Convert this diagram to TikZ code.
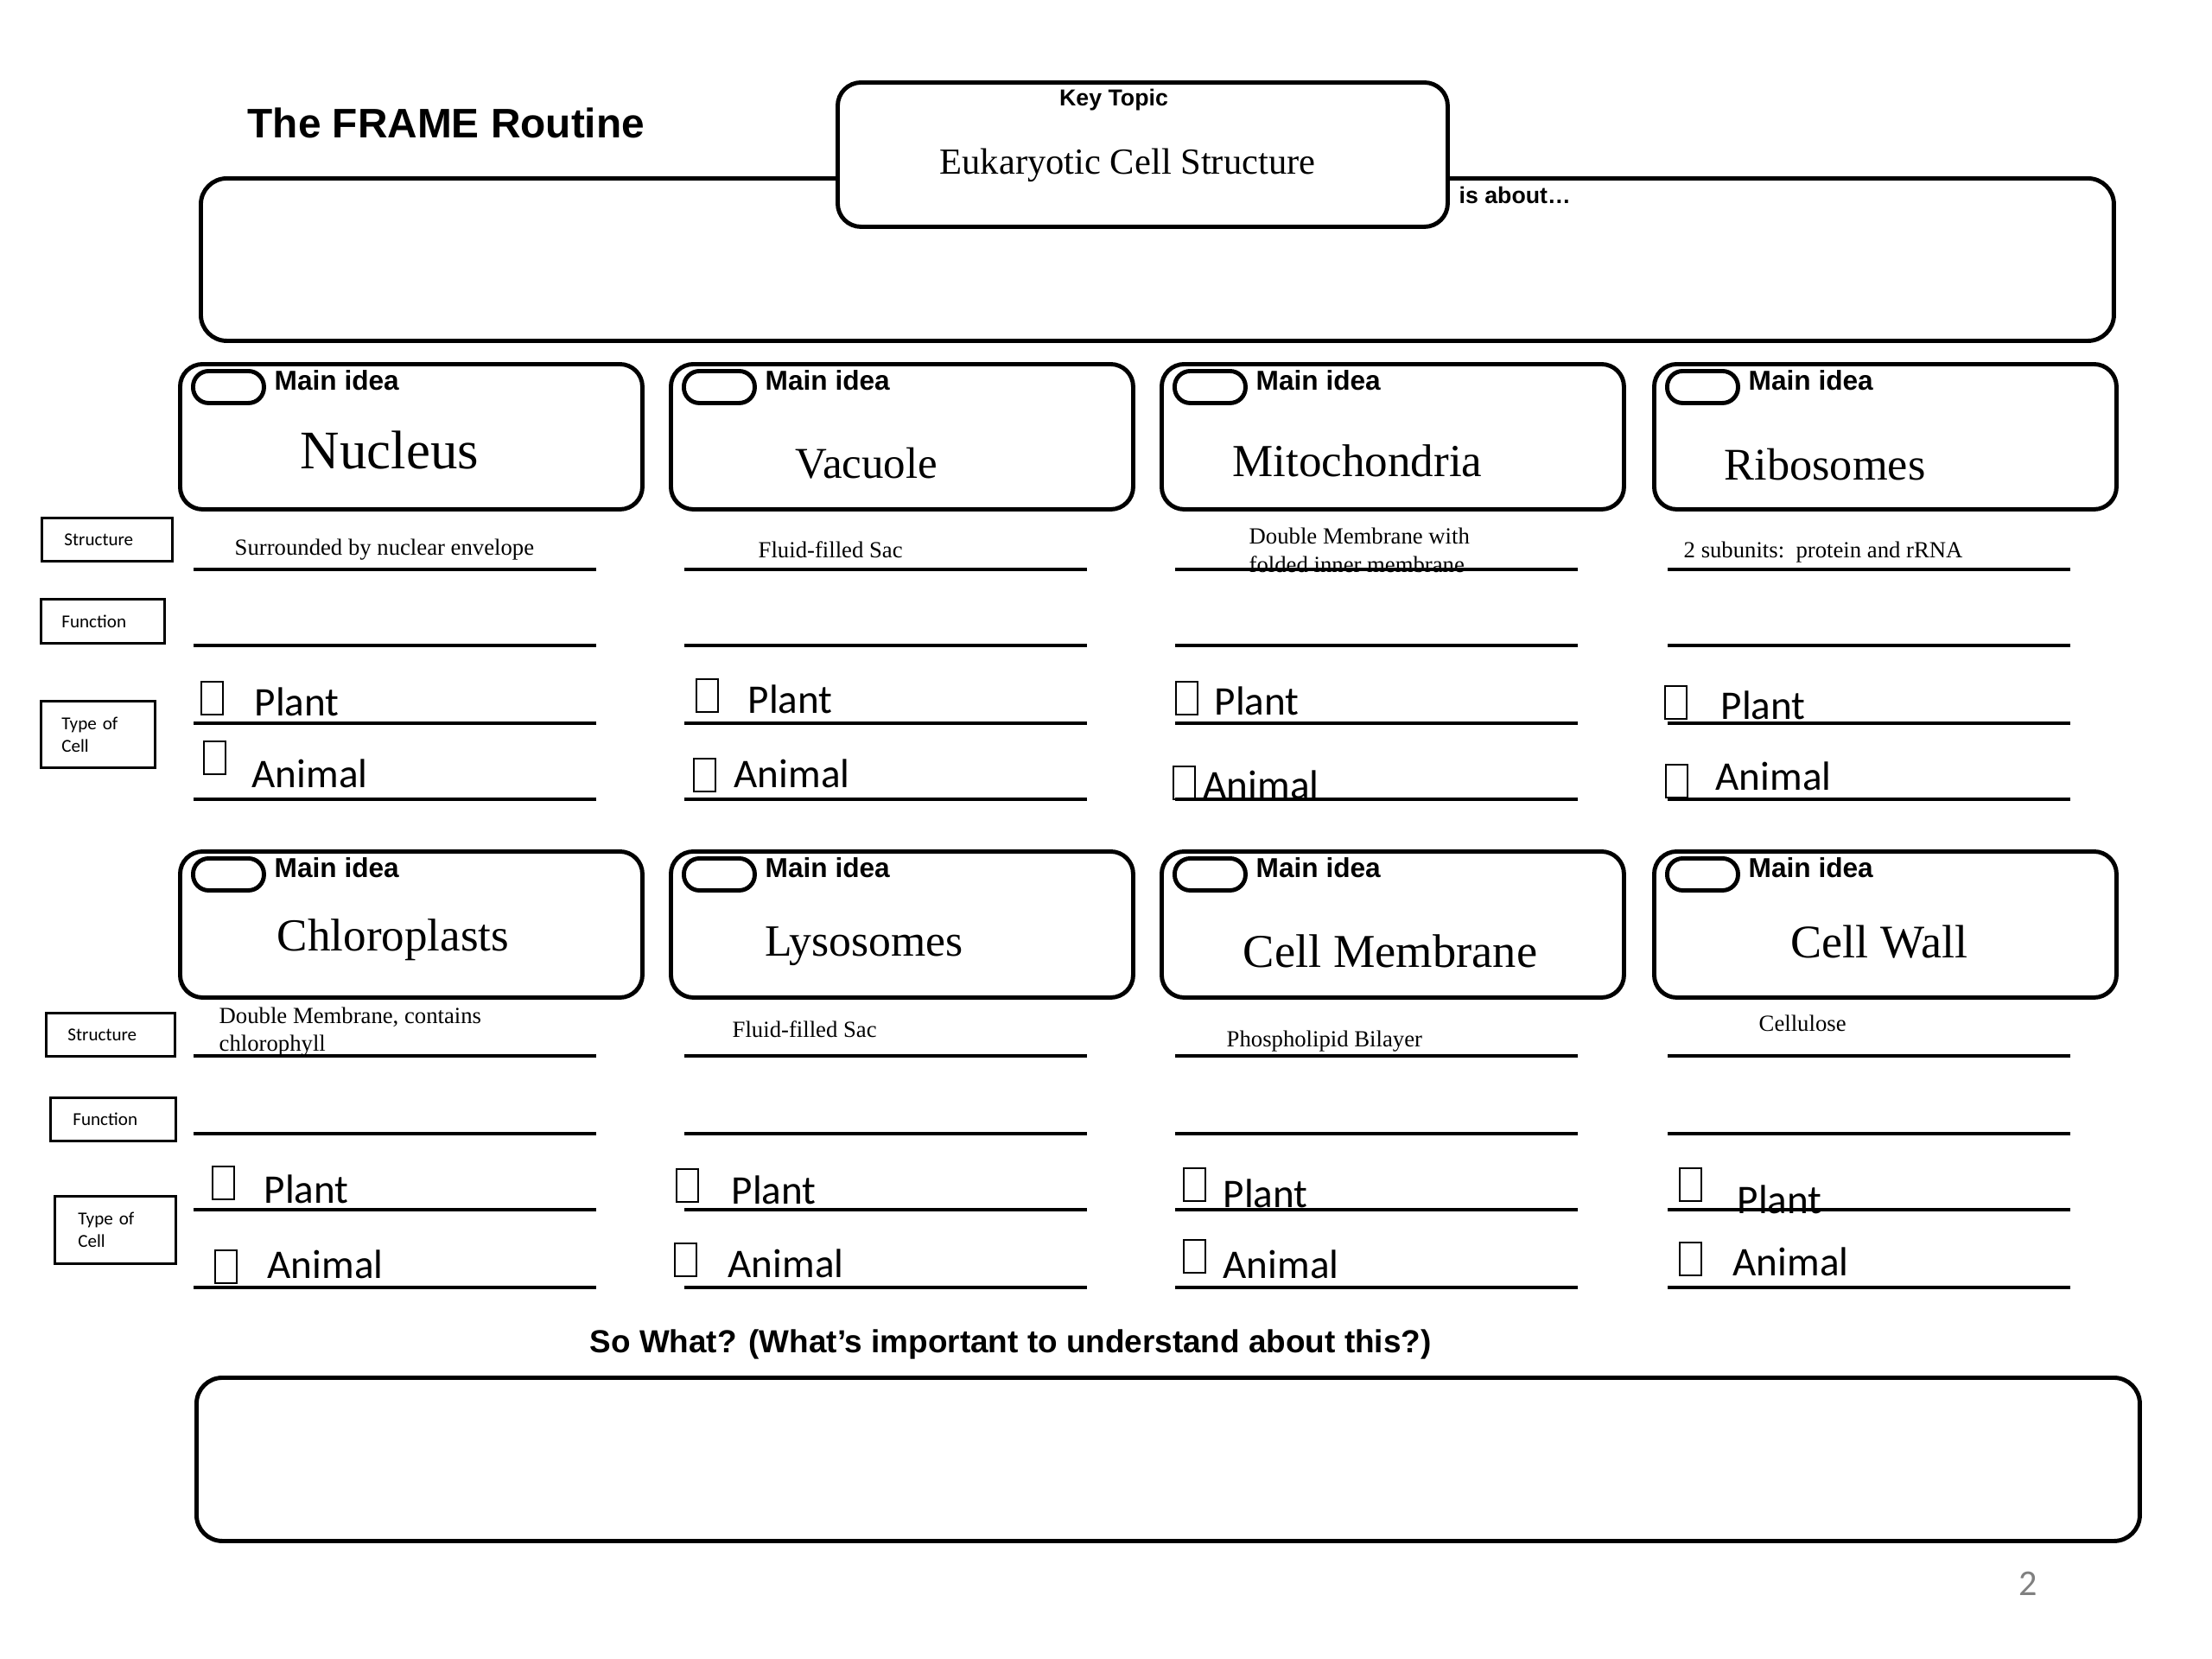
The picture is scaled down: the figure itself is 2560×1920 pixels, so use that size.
\documentclass[tikz,border=0pt]{standalone}
\usepackage{fontspec}
\setmainfont{Liberation Serif}
\newfontfamily\arialf{Liberation Sans}
\newfontfamily\calf{Carlito}
\begin{document}
\begin{tikzpicture}[x=0.1mm,y=-0.1mm,
  roundbox/.style={draw, line width=1.4pt, rounded corners=2.6mm, fill=white, inner sep=0pt, anchor=north west},
  pillbox/.style={draw, line width=1.4pt, rounded corners=1.8mm, inner sep=0pt, anchor=north west, minimum width=8.2mm, minimum height=3.7mm},
  mainidea/.style={font=\arialf\bfseries\fontsize{9}{10}\selectfont, anchor=base west, inner sep=0pt},
  topicname/.style={anchor=base, inner sep=0pt},
  sidelbl/.style={draw, line width=0.8pt, anchor=north west, align=left, font=\calf\fontsize{6}{7.4}\selectfont, inner ysep=0pt},
  rule/.style={line width=1.05pt},
  chk/.style={draw, line width=0.5pt, inner sep=0pt, minimum width=2.5mm, minimum height=3.8mm, anchor=north west},
  chklbl/.style={font=\calf\fontsize{13.4}{15}\selectfont, anchor=base west, inner sep=0pt},
  structtxt/.style={font=\fontsize{7.6}{9}\selectfont, anchor=base west, inner sep=0pt},
  smallbold/.style={font=\arialf\bfseries\fontsize{7.6}{9}\selectfont, inner sep=0pt},
]
\useasboundingbox (0,0) rectangle (2560,1920);

% title
\node[font=\arialf\bfseries\fontsize{13.6}{16}\selectfont, anchor=base west, inner sep=0pt] (title) at (286,159) {The FRAME Routine};

% is about box and key topic
\node[roundbox, rounded corners=3mm, minimum width=221.4mm, minimum height=18.8mm] (about) at (230,204) {};
\node[roundbox, rounded corners=2.7mm, minimum width=70.6mm, minimum height=16.7mm] (keytopic) at (967,93) {};
\node[smallbold, anchor=base] (keylbl) at (1289,122) {Key Topic};
\node[font=\fontsize{12.1}{14}\selectfont, anchor=base, inner sep=0pt] (keytxt) at (1305,201) {Eukaryotic Cell Structure};
\node[smallbold, anchor=base west] (isabout) at (1688,235) {is about\dots};

% main idea boxes and rules
\foreach \c/\xl in {1/206,2/774,3/1342,4/1912}{
  \node[roundbox, minimum width=53.5mm, minimum height=16.8mm] (mia\c) at (\xl,419) {};
  \node[pillbox] (pilla\c) at (\xl+15,427) {};
  \node[mainidea] (mila\c) at (\xl+111,451) {Main idea};
  \node[roundbox, minimum width=53.5mm, minimum height=16.9mm] (mib\c) at (\xl,983) {};
  \node[pillbox] (pillb\c) at (\xl+15,991) {};
  \node[mainidea] (milb\c) at (\xl+111,1015) {Main idea};
  \foreach \y in {659,747,837,925,1222,1312,1400,1490}
    \draw[rule] (\xl+18,\y) -- (\xl+484,\y);
}

% topic names
\node[topicname, font=\fontsize{17.9}{20}\selectfont] (tnucleus) at (451,542) {Nucleus};
\node[topicname, font=\fontsize{14.5}{17}\selectfont] (tvacuole) at (1003,553) {Vacuole};
\node[topicname, font=\fontsize{15.1}{17}\selectfont] (tmito) at (1571,551) {Mitochondria};
\node[topicname, font=\fontsize{14.9}{17}\selectfont] (tribo) at (2112,555) {Ribosomes};
\node[topicname, font=\fontsize{15.1}{17}\selectfont] (tchloro) at (455,1100) {Chloroplasts};
\node[topicname, font=\fontsize{14.7}{17}\selectfont] (tlyso) at (1000,1106) {Lysosomes};
\node[topicname, font=\fontsize{15.5}{17}\selectfont] (tmemb) at (1609,1119) {Cell Membrane};
\node[topicname, font=\fontsize{15.4}{17}\selectfont] (twall) at (2175,1108) {Cell Wall};

% structure texts
\node[structtxt] (snucleus) at (271,642) {Surrounded by nuclear envelope};
\node[structtxt] (svacuole) at (877,645) {Fluid-filled Sac};
\node[structtxt] (smitoA) at (1445,629) {Double Membrane with};
\node[structtxt] (smitoB) at (1445,662) {folded inner membrane};
\node[structtxt] (sribo) at (1948,645) {2 subunits:\ \ protein and rRNA};
\node[structtxt] (schloroA) at (253,1184) {Double Membrane, contains};
\node[structtxt] (schloroB) at (253,1216) {chlorophyll};
\node[structtxt] (slyso) at (847,1200) {Fluid-filled Sac};
\node[structtxt] (smemb) at (1419,1211) {Phospholipid Bilayer};
\node[structtxt] (swall) at (2035,1193) {Cellulose};

% side labels
\node[sidelbl, minimum height=5.0mm, inner xsep=2.6mm, text width=9.9mm] (lstructa) at (47,598) {Structure};
\node[sidelbl, minimum height=5.1mm, inner xsep=2.4mm, text width=9.5mm] (lfunca) at (46,692) {Function};
\node[sidelbl, minimum height=7.7mm, inner xsep=2.4mm, text width=8.4mm] (ltypea) at (46,810) {Type of\\Cell};
\node[sidelbl, minimum height=5.0mm, inner xsep=2.5mm, text width=9.9mm] (lstructb) at (52,1171) {Structure};
\node[sidelbl, minimum height=5.0mm, inner xsep=2.6mm, text width=9.3mm] (lfuncb) at (57,1269) {Function};
\node[sidelbl, minimum height=7.8mm, inner xsep=2.7mm, text width=8.6mm] (ltypeb) at (62,1383) {Type of\\Cell};

% checkboxes
\foreach \n/\bx/\by/\tx/\ty/\t in {
  p11/232/788/294/828/Plant, a11/235/857/291/911/Animal,
  p12/805/785/865/825/Plant, a12/802/877/849/911/Animal,
  p13/1360/788/1405/827/Plant, a13/1357/886/1392/924/Animal,
  p14/1926/793/1991/832/Plant, a14/1927/884/1985/914/Animal,
  p21/245/1349/305/1392/Plant, a21/248/1446/309/1479/Animal,
  p22/782/1352/846/1393/Plant, a22/780/1438/842/1478/Animal,
  p23/1369/1351/1415/1397/Plant, a23/1369/1434/1415/1479/Animal,
  p24/1943/1351/2010/1404/Plant, a24/1943/1437/2005/1476/Animal}{
  \node[chk] (box\n) at (\bx,\by) {};
  \node[chklbl] (txt\n) at (\tx,\ty) {\t};
}

% so what
\node[font=\arialf\bfseries\fontsize{10.5}{12}\selectfont, anchor=base west, inner sep=0pt] (sowhat) at (682,1565) {So What? (What’s important to understand about this?)};
\node[roundbox, rounded corners=3mm, minimum width=224.9mm, minimum height=18.9mm] (sowhatbox) at (225,1592) {};

% page number
\node[font=\calf\fontsize{12}{14}\selectfont, text=gray, anchor=base, inner sep=0pt] (pgnum) at (2347,1846) {2};
\end{tikzpicture}
\end{document}
